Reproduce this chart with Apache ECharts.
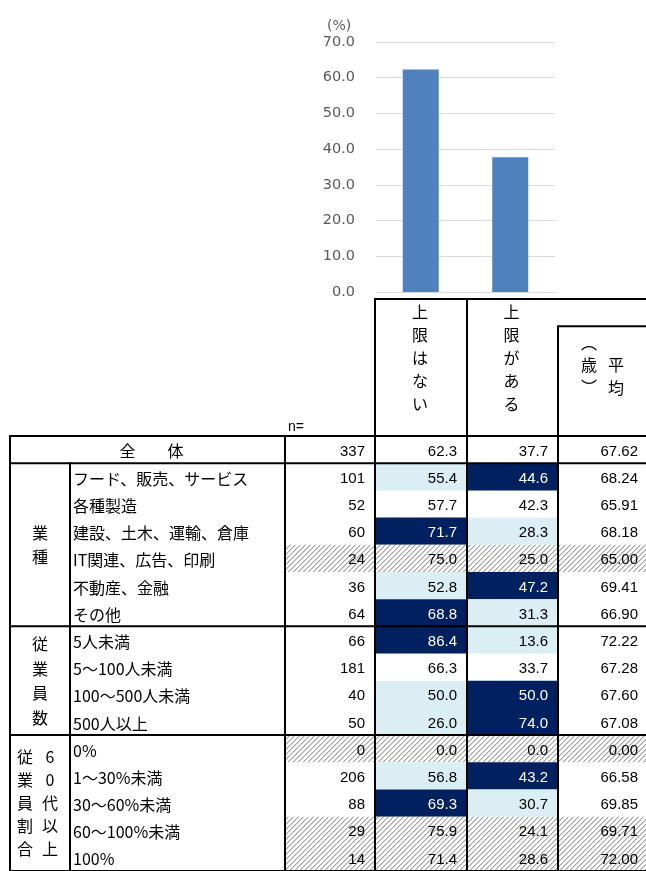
<!DOCTYPE html>
<html><head><meta charset="utf-8">
<script src="https://cdn.jsdelivr.net/npm/echarts@6/dist/echarts.min.js"></script>
<style>html,body{margin:0;padding:0;background:#fff}#c{width:646px;height:871px}</style>
</head><body><div id="c"></div>
<script>
// ---------------- data ----------------
const categories = ['上限はない', '上限がある'];
const avgHeaderCols = ['平均', '︵歳︶'];
const yMin = 0, yMax = 70, yInterval = 10;
const rowLabels = ['全　　体', 'フード、販売、サービス', '各種製造', '建設、土木、運輸、倉庫', 'IT関連、広告、印刷', '不動産、金融', 'その他',
  '5人未満', '5～100人未満', '100～500人未満', '500人以上',
  '0%', '1～30%未満', '30～60%未満', '60～100%未満', '100%'];
const nValues = [337, 101, 52, 60, 24, 36, 64, 66, 181, 40, 50, 0, 206, 88, 29, 14];
const noLimit = [62.3, 55.4, 57.7, 71.7, 75.0, 52.8, 68.8, 86.4, 66.3, 50.0, 26.0, 0.0, 56.8, 69.3, 75.9, 71.4];
const hasLimit = [37.7, 44.6, 42.3, 28.3, 25.0, 47.2, 31.3, 13.6, 33.7, 50.0, 74.0, 0.0, 43.2, 30.7, 24.1, 28.6];
const avgAge = [67.62, 68.24, 65.91, 68.18, 65.00, 69.41, 66.90, 72.22, 67.28, 67.60, 67.08, 0.00, 66.58, 69.85, 69.71, 72.00];
const groupLabels = [['業種'], ['従業員数'], ['従業員割合', '60代以上']];
const groupStart = [1, 7, 11];
const groupSize = [6, 4, 5];
const HATCH_N = 30;      // rows with n below this are hatched
const DIFF = 5;          // highlight threshold vs. overall (points)

// ---------------- layout ----------------
const COLS = [10, 70, 285, 375, 467, 558, 648];
const ROW_H = 27.3;
const TABLE_TOP = 436;
const HEAD_TOP = 299;
const NAVY = '#002060', LIGHT = '#DAEEF3';
const NUM_FONT = '"Liberation Sans", Arial, sans-serif';
const JP_FONT = '"Noto Sans CJK JP", sans-serif';

function makeHatch() {
  const c = document.createElement('canvas'); c.width = 5; c.height = 5;
  const g = c.getContext('2d');
  g.fillStyle = '#ffffff'; g.fillRect(0, 0, 5, 5);
  for (let y = 0; y < 5; y++) {
    const x0 = 4 - y;
    g.fillStyle = '#a0a0a0'; g.fillRect(x0, y, 1, 1);
    g.fillStyle = '#d2d2d2'; g.fillRect((x0 + 1) % 5, y, 1, 1);
  }
  return c;
}
const hatch = { image: makeHatch(), repeat: 'repeat' };

function vert(s) { return s.split('').join('\n'); }

function cellColor(val, overall) {
  if (val - overall >= DIFF) return NAVY;
  if (val - overall <= -DIFF) return LIGHT;
  return null;
}

function renderCells(params, api) {
  const i = params.dataIndex;
  const c = api.coord([0, i]);
  const h = api.size([0, 1])[1];
  const top = c[1] - h / 2, cy = c[1];
  const X = v => api.coord([v, i])[0];
  const ch = [];
  const hatched = nValues[i] < HATCH_N;
  const vals = [String(nValues[i]), noLimit[i].toFixed(1), hasLimit[i].toFixed(1), avgAge[i].toFixed(2)];
  const overall = [null, noLimit[0], hasLimit[0], null];
  const raw = [nValues[i], noLimit[i], hasLimit[i], avgAge[i]];
  for (let k = 0; k < 4; k++) {
    const x0 = X(COLS[k + 2]), x1 = X(COLS[k + 3]);
    let fill = null;
    if (hatched) fill = hatch;
    else if (i > 0 && overall[k] != null) fill = cellColor(raw[k], overall[k]);
    if (fill) ch.push({ type: 'rect', shape: { x: x0, y: top, width: x1 - x0, height: h }, style: { fill: fill } });
    ch.push({ type: 'text', style: { text: vals[k], x: x1 - 10, y: cy + 2, align: 'right', verticalAlign: 'middle',
      font: '15px ' + NUM_FONT, fill: fill === NAVY ? '#ffffff' : '#000000' } });
  }
  if (i === 0) {
    ch.push({ type: 'text', style: { text: rowLabels[i], x: (X(COLS[0]) + X(COLS[2])) / 2 + 4, y: cy + 1, align: 'center',
      verticalAlign: 'middle', font: '16px ' + JP_FONT, fill: '#000' } });
  } else {
    ch.push({ type: 'text', style: { text: rowLabels[i], x: X(COLS[1]) + 3, y: cy + 2, align: 'left',
      verticalAlign: 'middle', font: '16px ' + JP_FONT, fill: '#000' } });
  }
  const g = groupStart.indexOf(i);
  if (g >= 0) {
    const gTop = top, gH = h * groupSize[g];
    const cols = groupLabels[g];
    const lh = cols.length > 1 ? 23 : 24.5;
    cols.forEach((t, j) => {
      const cx = cols.length > 1 ? X(COLS[0]) + 15 + j * 25 : (X(COLS[0]) + X(COLS[1])) / 2;
      ch.push({ type: 'text', style: { text: vert(t), x: cx, y: gTop + gH / 2, align: 'center', verticalAlign: 'middle',
        lineHeight: lh, font: '16px ' + JP_FONT, fill: '#000' } });
    });
  }
  return { type: 'group', children: ch };
}

function renderBorders(params, api) {
  const i = params.dataIndex;
  const c = api.coord([0, i]);
  const h = api.size([0, 1])[1];
  const top = c[1] - h / 2, bot = top + h;
  const X = v => api.coord([v, i])[0];
  const ch = [];
  const ls = { stroke: '#000', lineWidth: 2 };
  COLS.slice(0, 6).forEach((cx, k) => {
    if (k === 1 && i === 0) return;
    ch.push({ type: 'line', shape: { x1: X(cx), y1: top - 1, x2: X(cx), y2: bot + 1 }, style: ls });
  });
  if (i === 0 || i === 1 || groupStart.indexOf(i) >= 0) {
    ch.push({ type: 'line', shape: { x1: X(COLS[0]) - 1, y1: top, x2: X(COLS[6]), y2: top }, style: ls });
  }
  if (i === rowLabels.length - 1) {
    ch.push({ type: 'line', shape: { x1: X(COLS[0]) - 1, y1: bot, x2: X(COLS[6]), y2: bot }, style: ls });
  }
  return { type: 'group', children: ch };
}

function renderHeader(params, api) {
  const c = api.coord([0, 0]);
  const h = api.size([0, 1])[1];
  const top = c[1] - h / 2, bot = top + h;
  const X = v => api.coord([v, 0])[0];
  const ls = { stroke: '#000', lineWidth: 2 };
  const ch = [];
  ch.push({ type: 'line', shape: { x1: X(COLS[3]) - 1, y1: top, x2: X(COLS[6]), y2: top }, style: ls });
  ch.push({ type: 'line', shape: { x1: X(COLS[3]), y1: top, x2: X(COLS[3]), y2: bot }, style: ls });
  ch.push({ type: 'line', shape: { x1: X(COLS[4]), y1: top, x2: X(COLS[4]), y2: bot }, style: ls });
  ch.push({ type: 'line', shape: { x1: X(COLS[5]), y1: top + ROW_H, x2: X(COLS[5]), y2: bot }, style: ls });
  ch.push({ type: 'line', shape: { x1: X(COLS[5]) - 1, y1: top + ROW_H, x2: X(COLS[6]), y2: top + ROW_H }, style: ls });
  categories.forEach((t, k) => {
    const cx = (X(COLS[k + 3]) + X(COLS[k + 4])) / 2 - 1;
    ch.push({ type: 'text', style: { text: vert(t), x: cx, y: top + 1, align: 'center', verticalAlign: 'top',
      lineHeight: 23, font: '16px ' + JP_FONT, fill: '#000' } });
  });
  const c5 = (X(COLS[5]) + X(COLS[6])) / 2;
  ch.push({ type: 'text', style: { text: vert(avgHeaderCols[0]), x: c5 + 13, y: top + 77, align: 'center', verticalAlign: 'middle',
    lineHeight: 23, font: '16px ' + JP_FONT, fill: '#000' } });
  ch.push({ type: 'text', style: { text: vert(avgHeaderCols[1]), x: c5 - 14, y: top + 66, align: 'center', verticalAlign: 'middle',
    lineHeight: 22, font: '16px ' + JP_FONT, fill: '#000' } });
  ch.push({ type: 'text', style: { text: 'n=', x: X(COLS[2]) + 3, y: bot - 9, align: 'left', verticalAlign: 'middle',
    font: '14px ' + NUM_FONT, fill: '#000' } });
  return { type: 'group', children: ch };
}

const rowData = rowLabels.map((_, i) => [0, i]);
const rowCats = rowLabels.map((_, i) => String(i));

const chart = echarts.init(document.getElementById('c'), null, { renderer: 'canvas' });
chart.setOption({
  animation: false,
  backgroundColor: '#ffffff',
  title: { text: '(%)', left: 322, top: 14, textStyle: { fontSize: 14, fontWeight: 'normal', color: '#595959', fontFamily: '"DejaVu Sans", sans-serif' } },
  grid: [
    { left: 376, top: 42, width: 179, height: 250 },
    { left: 0, top: TABLE_TOP, width: 646, height: ROW_H * rowLabels.length },
    { left: 0, top: HEAD_TOP, width: 646, height: TABLE_TOP - HEAD_TOP }
  ],
  xAxis: [
    { type: 'category', gridIndex: 0, data: categories, axisLine: { show: false }, axisTick: { show: false }, axisLabel: { show: false } },
    { type: 'value', gridIndex: 1, min: 0, max: 646, show: false },
    { type: 'value', gridIndex: 2, min: 0, max: 646, show: false }
  ],
  yAxis: [
    { type: 'value', gridIndex: 0, min: yMin, max: yMax, interval: yInterval,
      axisLine: { show: false }, axisTick: { show: false },
      splitLine: { lineStyle: { color: '#d9d9d9', width: 1 } },
      axisLabel: { margin: 21, formatter: v => v.toFixed(1), color: '#595959', fontSize: 14.5, fontFamily: '"DejaVu Sans", sans-serif' } },
    { type: 'category', gridIndex: 1, data: rowCats, inverse: true, show: false },
    { type: 'category', gridIndex: 2, data: ['h'], show: false }
  ],
  series: [
    { type: 'bar', xAxisIndex: 0, yAxisIndex: 0, data: [noLimit[0], hasLimit[0]], barWidth: 36,
      itemStyle: { color: '#4F81BD' } },
    { type: 'custom', xAxisIndex: 1, yAxisIndex: 1, data: rowData, renderItem: renderCells, z: 2 },
    { type: 'custom', xAxisIndex: 1, yAxisIndex: 1, data: rowData, renderItem: renderBorders, z: 3 },
    { type: 'custom', xAxisIndex: 2, yAxisIndex: 2, data: [[0, 0]], renderItem: renderHeader, z: 3 }
  ]
});
</script>
</body></html>
